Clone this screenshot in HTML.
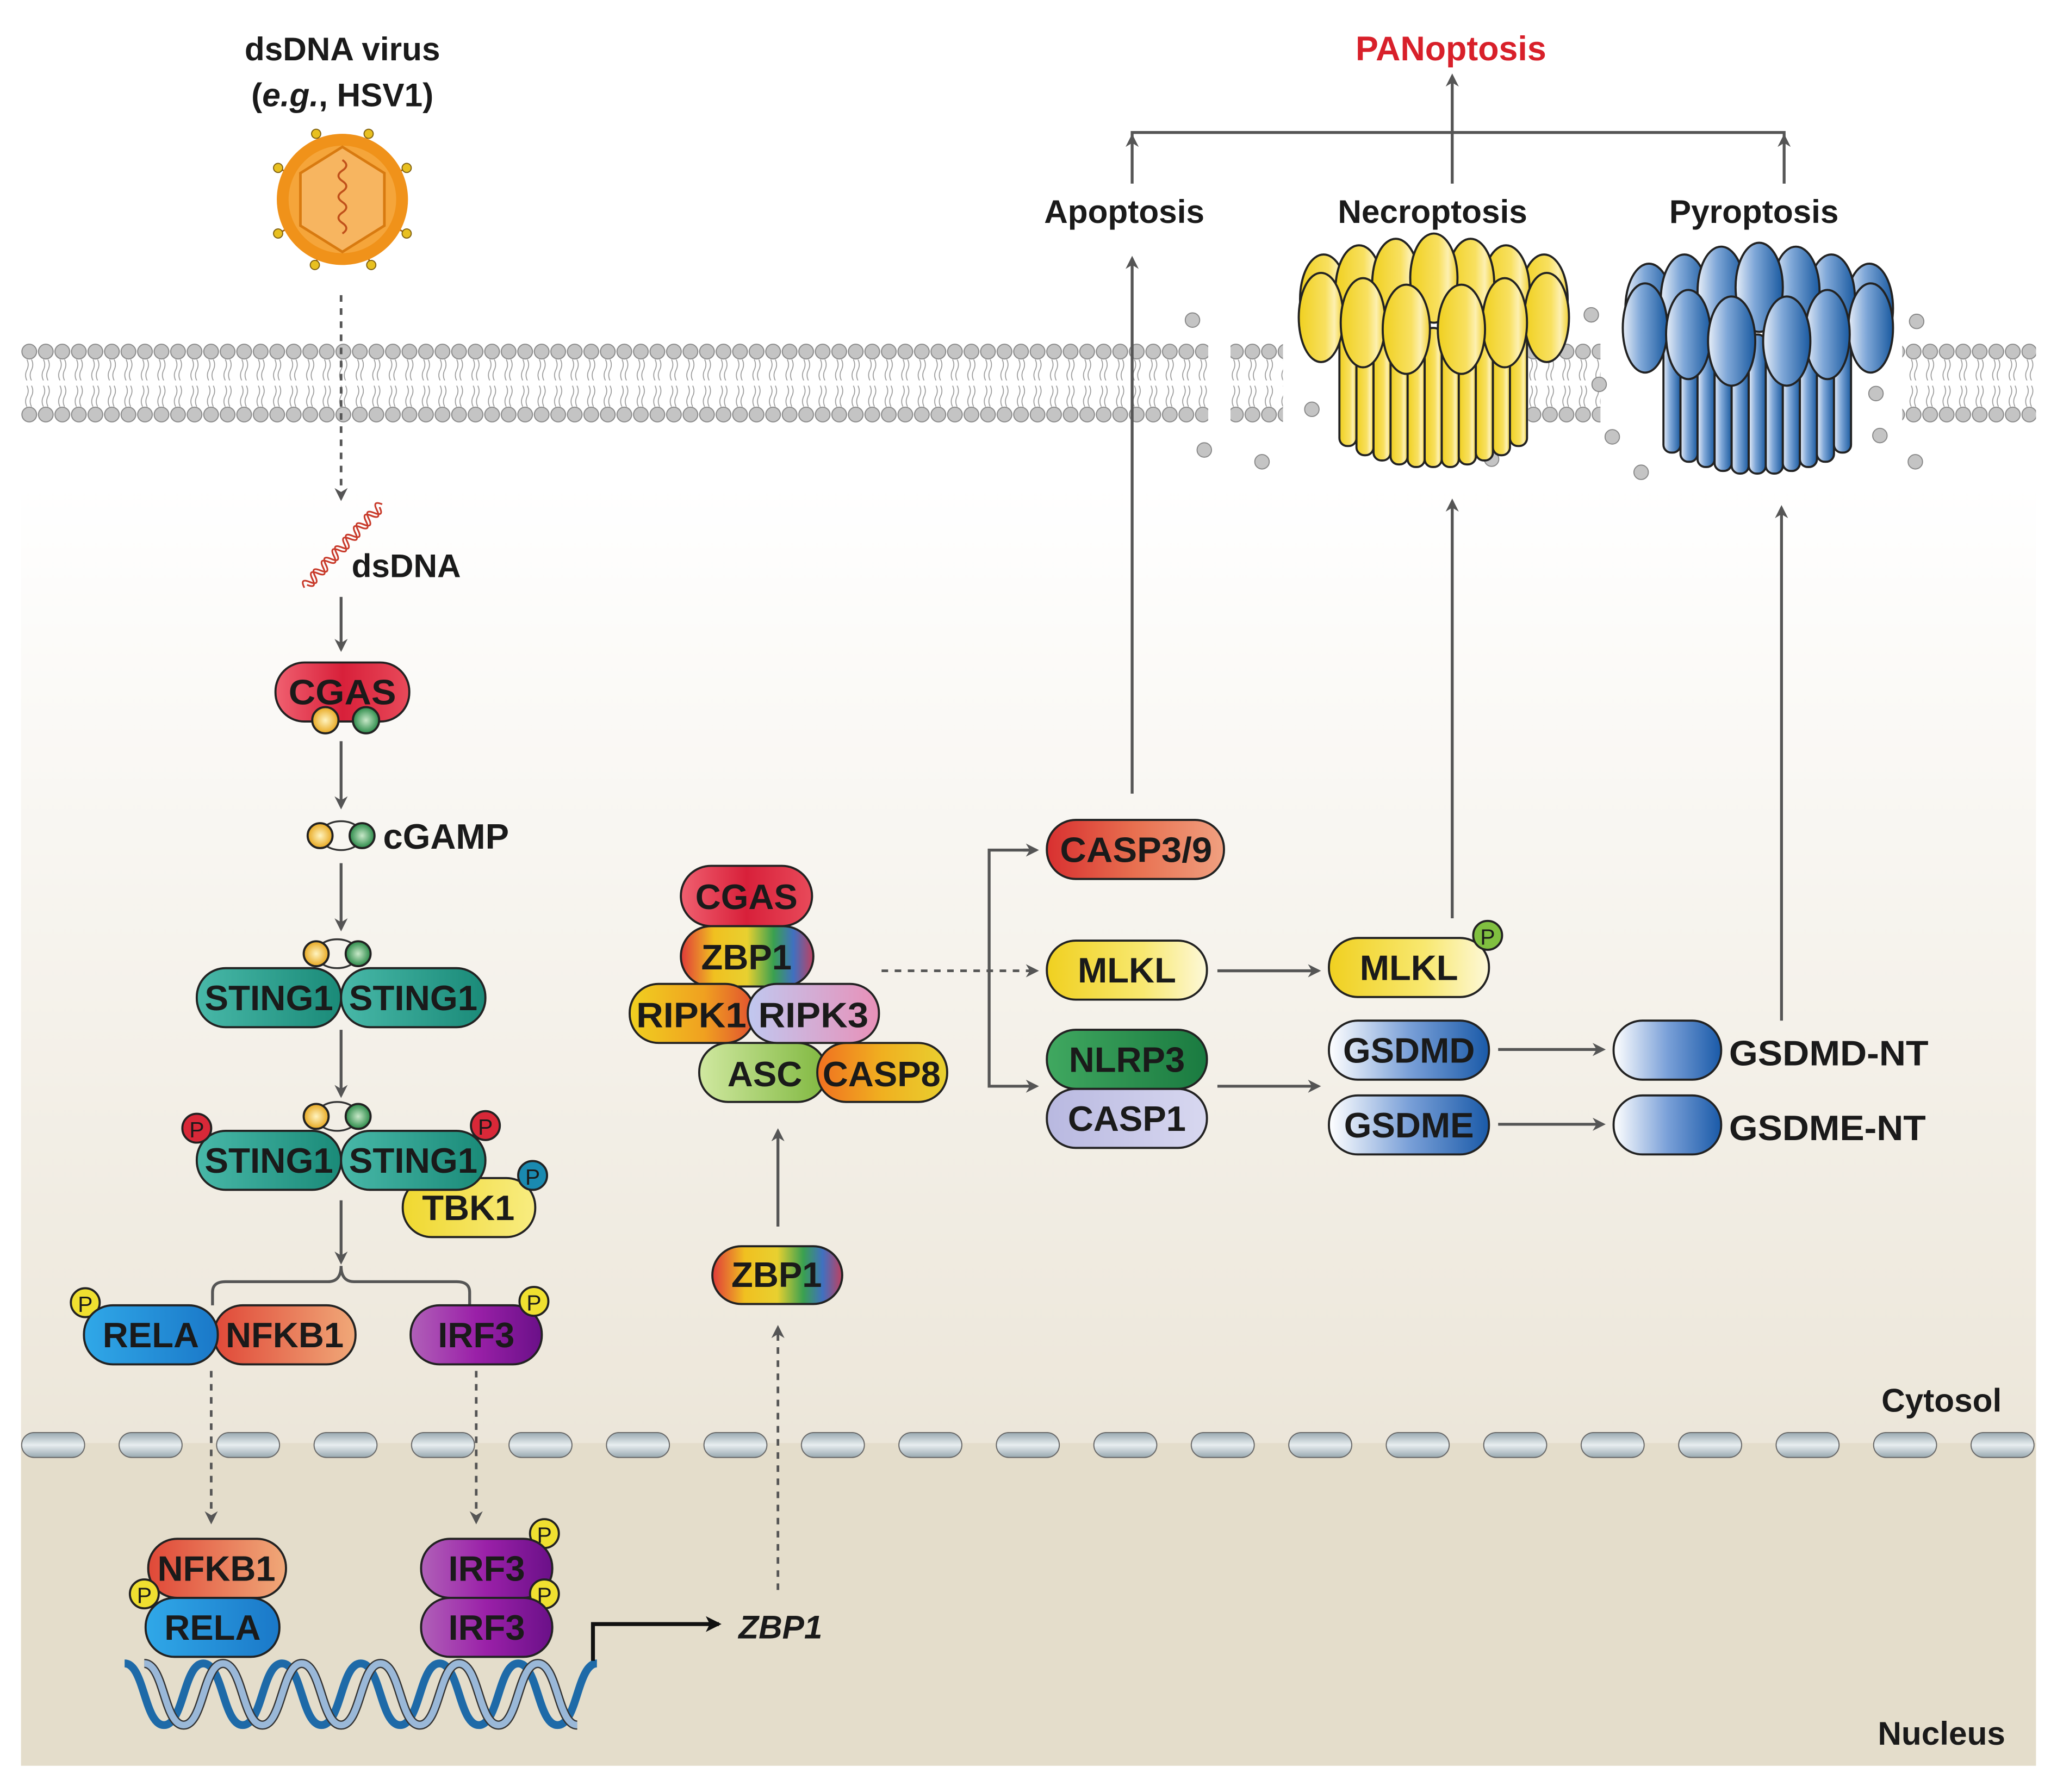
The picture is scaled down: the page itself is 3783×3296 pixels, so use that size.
<!DOCTYPE html>
<html><head><meta charset="utf-8"><style>
html,body{margin:0;padding:0;background:#fff;}
svg{display:block;}
text{font-family:"Liberation Sans Narrow","Liberation Sans",sans-serif;font-weight:bold;fill:#1a1a1a;}
.w{font-family:"Liberation Sans",sans-serif;}
.pl text{font-size:27px;text-anchor:middle;}
.st{stroke:#222;stroke-width:1.6;}
.ar{stroke:#555;stroke-width:2.2;fill:none;}
.ad{stroke:#555;stroke-width:2;fill:none;stroke-dasharray:5,5;}
</style></head><body>
<svg width="3783" height="3296" viewBox="0 0 1568 1366" preserveAspectRatio="none" xmlns="http://www.w3.org/2000/svg">
<defs>
<linearGradient id="bg" x1="0" y1="0" x2="0" y2="1">
<stop offset="0" stop-color="#ffffff"/><stop offset="0.05" stop-color="#ffffff"/><stop offset="1" stop-color="#ece6d9"/></linearGradient>
<linearGradient id="gCG" x1="0" x2="1"><stop offset="0" stop-color="#f06070"/><stop offset="0.5" stop-color="#d8203a"/><stop offset="1" stop-color="#e84a5a"/></linearGradient>
<linearGradient id="gZ" x1="0" x2="1"><stop offset="0" stop-color="#e03a3a"/><stop offset="0.25" stop-color="#f0c020"/><stop offset="0.5" stop-color="#e8d030"/><stop offset="0.7" stop-color="#3aa050"/><stop offset="0.85" stop-color="#4070c0"/><stop offset="1" stop-color="#c04060"/></linearGradient>
<linearGradient id="gST" x1="0" x2="1"><stop offset="0" stop-color="#48b8a8"/><stop offset="1" stop-color="#1a8a78"/></linearGradient>
<linearGradient id="gTB" x1="0" x2="1"><stop offset="0" stop-color="#f0d830"/><stop offset="1" stop-color="#f8ec80"/></linearGradient>
<linearGradient id="gRE" x1="0" x2="1"><stop offset="0" stop-color="#30a8e8"/><stop offset="1" stop-color="#1a78c8"/></linearGradient>
<linearGradient id="gNF" x1="0" x2="1"><stop offset="0" stop-color="#e04838"/><stop offset="1" stop-color="#f0a878"/></linearGradient>
<linearGradient id="gIR" x1="0" x2="1"><stop offset="0" stop-color="#b060b8"/><stop offset="0.5" stop-color="#9a20a8"/><stop offset="1" stop-color="#6a1088"/></linearGradient>
<linearGradient id="gC3" x1="0" x2="1"><stop offset="0" stop-color="#d83030"/><stop offset="0.5" stop-color="#e87050"/><stop offset="1" stop-color="#f0a080"/></linearGradient>
<linearGradient id="gML" x1="0" x2="1"><stop offset="0" stop-color="#f0d020"/><stop offset="0.6" stop-color="#f8e870"/><stop offset="1" stop-color="#fdf8d8"/></linearGradient>
<linearGradient id="gNL" x1="0" x2="1"><stop offset="0" stop-color="#40a860"/><stop offset="1" stop-color="#1a7a40"/></linearGradient>
<linearGradient id="gCA" x1="0" x2="1"><stop offset="0" stop-color="#b8b8e0"/><stop offset="1" stop-color="#d8d8f0"/></linearGradient>
<linearGradient id="gGS" x1="0" x2="1"><stop offset="0" stop-color="#ffffff"/><stop offset="0.5" stop-color="#7aa0d8"/><stop offset="1" stop-color="#1a5aa8"/></linearGradient>
<linearGradient id="gR1" x1="0" x2="1"><stop offset="0" stop-color="#f0d020"/><stop offset="0.6" stop-color="#f0a020"/><stop offset="1" stop-color="#e05030"/></linearGradient>
<linearGradient id="gR3" x1="0" x2="1"><stop offset="0" stop-color="#c0c8f0"/><stop offset="1" stop-color="#e890b8"/></linearGradient>
<linearGradient id="gAS" x1="0" x2="1"><stop offset="0" stop-color="#d0e8a0"/><stop offset="1" stop-color="#80b840"/></linearGradient>
<linearGradient id="gC8" x1="0" x2="1"><stop offset="0" stop-color="#f07020"/><stop offset="0.5" stop-color="#f0b020"/><stop offset="1" stop-color="#e8d030"/></linearGradient>
<linearGradient id="gYC" x1="0" x2="1"><stop offset="0" stop-color="#f0d020"/><stop offset="0.6" stop-color="#f8e060"/><stop offset="0.8" stop-color="#fdf0b0"/><stop offset="1" stop-color="#f0d030"/></linearGradient>
<linearGradient id="gBC" x1="0" x2="1"><stop offset="0" stop-color="#e8eef8"/><stop offset="0.4" stop-color="#80a8d8"/><stop offset="1" stop-color="#1a5aa0"/></linearGradient>
<linearGradient id="gNP" x1="0" x2="0" y1="0" y2="1"><stop offset="0" stop-color="#98a8b0"/><stop offset="0.5" stop-color="#e8eef0"/><stop offset="1" stop-color="#98a8b0"/></linearGradient>
<radialGradient id="gBy"><stop offset="0" stop-color="#fff4c0"/><stop offset="1" stop-color="#e8a820"/></radialGradient>
<radialGradient id="gBg"><stop offset="0" stop-color="#c8e8c8"/><stop offset="1" stop-color="#2a8a48"/></radialGradient>
<pattern id="mem" patternUnits="userSpaceOnUse" x="16" y="259" width="12.6" height="66">
<circle cx="6.3" cy="9" r="5.6" fill="#c4c4c4" stroke="#888" stroke-width="0.8"/>
<circle cx="6.3" cy="57" r="5.6" fill="#c4c4c4" stroke="#888" stroke-width="0.8"/>
<path d="M4.5 15 q2 4 0 8 q-2 4 0 8 M8 15 q2 4 0 8 q-2 4 0 8 M4.5 35 q2 4 0 8 q-2 4 0 8 M8 35 q2 4 0 8 q-2 4 0 8" stroke="#999" stroke-width="0.7" fill="none"/>
</pattern>
<pattern id="np" patternUnits="userSpaceOnUse" x="16" y="1091" width="74.3" height="22">
<rect x="0.5" y="1" width="48" height="19" rx="9.5" fill="url(#gNP)" stroke="#666" stroke-width="0.8"/>
</pattern>
<marker id="ah" markerWidth="10" markerHeight="10" refX="8" refY="5" orient="auto" markerUnits="userSpaceOnUse"><path d="M0,0 L10,5 L0,10 L3,5 z" fill="#555"/></marker>
<marker id="ahk" markerWidth="12" markerHeight="12" refX="10" refY="6" orient="auto" markerUnits="userSpaceOnUse"><path d="M0,0 L12,6 L0,12 L3,6 z" fill="#111"/></marker>
</defs>

<rect x="0" y="0" width="1568" height="1366" fill="#fff"/>
<rect x="16" y="330" width="1536" height="772" fill="url(#bg)"/>
<rect x="16" y="1100" width="1536" height="246" fill="#e4ddcb"/>

<rect x="16" y="259" width="905" height="66" fill="url(#mem)"/>
<rect x="938" y="259" width="40" height="66" fill="url(#mem)"/>
<rect x="1165" y="259" width="55" height="66" fill="url(#mem)"/>
<rect x="1450" y="259" width="102" height="66" fill="url(#mem)"/>
<g fill="#c4c4c4" stroke="#888" stroke-width="0.8">
<circle cx="909" cy="244" r="5.5"/><circle cx="918" cy="343" r="5.5"/><circle cx="962" cy="352" r="5.5"/><circle cx="1000" cy="312" r="5.5"/><circle cx="1213" cy="240" r="5.5"/><circle cx="1219" cy="293" r="5.5"/><circle cx="1229" cy="333" r="5.5"/><circle cx="1251" cy="360" r="5.5"/><circle cx="1461" cy="245" r="5.5"/><circle cx="1430" cy="300" r="5.5"/><circle cx="1433" cy="332" r="5.5"/><circle cx="1460" cy="352" r="5.5"/><circle cx="1137" cy="350" r="5.5"/>
</g>

<g class="st" stroke-width="1.4">
<g fill="url(#gYC)">
<rect x="1021" y="250" width="13" height="90" rx="6"/><rect x="1034" y="250" width="13" height="97" rx="6"/><rect x="1047" y="250" width="13" height="101" rx="6"/><rect x="1060" y="250" width="13" height="104" rx="6"/><rect x="1073" y="250" width="13" height="106" rx="6"/><rect x="1086" y="250" width="13" height="106" rx="6"/><rect x="1099" y="250" width="13" height="106" rx="6"/><rect x="1112" y="250" width="13" height="104" rx="6"/><rect x="1125" y="250" width="13" height="101" rx="6"/><rect x="1138" y="250" width="13" height="97" rx="6"/><rect x="1151" y="250" width="13" height="90" rx="6"/>
<ellipse cx="1009" cy="228" rx="18" ry="34"/><ellipse cx="1177" cy="228" rx="18" ry="34"/>
<ellipse cx="1036" cy="221" rx="18" ry="34"/><ellipse cx="1148" cy="221" rx="18" ry="34"/>
<ellipse cx="1064" cy="216" rx="18" ry="34"/><ellipse cx="1121" cy="216" rx="18" ry="34"/>
<ellipse cx="1093" cy="212" rx="18" ry="34"/>
<ellipse cx="1007" cy="242" rx="17" ry="34"/><ellipse cx="1179" cy="242" rx="17" ry="34"/>
<ellipse cx="1039" cy="246" rx="17" ry="34"/><ellipse cx="1147" cy="246" rx="17" ry="34"/>
<ellipse cx="1072" cy="251" rx="18" ry="34"/><ellipse cx="1114" cy="251" rx="18" ry="34"/>
</g></g>
<g class="st" stroke-width="1.4">
<g fill="url(#gBC)">
<rect x="1268" y="255" width="13" height="90" rx="6"/><rect x="1281" y="255" width="13" height="97" rx="6"/><rect x="1294" y="255" width="13" height="101" rx="6"/><rect x="1307" y="255" width="13" height="104" rx="6"/><rect x="1320" y="255" width="13" height="106" rx="6"/><rect x="1333" y="255" width="13" height="106" rx="6"/><rect x="1346" y="255" width="13" height="106" rx="6"/><rect x="1359" y="255" width="13" height="104" rx="6"/><rect x="1372" y="255" width="13" height="101" rx="6"/><rect x="1385" y="255" width="13" height="97" rx="6"/><rect x="1398" y="255" width="13" height="90" rx="6"/>
<ellipse cx="1257" cy="235" rx="18" ry="34"/><ellipse cx="1425" cy="235" rx="18" ry="34"/>
<ellipse cx="1284" cy="228" rx="18" ry="34"/><ellipse cx="1396" cy="228" rx="18" ry="34"/>
<ellipse cx="1312" cy="222" rx="18" ry="34"/><ellipse cx="1369" cy="222" rx="18" ry="34"/>
<ellipse cx="1341" cy="219" rx="18" ry="34"/>
<ellipse cx="1254" cy="250" rx="17" ry="34"/><ellipse cx="1426" cy="250" rx="17" ry="34"/>
<ellipse cx="1287" cy="255" rx="17" ry="34"/><ellipse cx="1393" cy="255" rx="17" ry="34"/>
<ellipse cx="1320" cy="260" rx="18" ry="34"/><ellipse cx="1362" cy="260" rx="18" ry="34"/>
</g></g>

<rect x="16" y="1091" width="1540" height="22" fill="url(#np)"/>

<g stroke="#a06010" stroke-width="1.2">
<line x1="261" y1="152" x2="241" y2="102"/><line x1="261" y1="152" x2="281" y2="102"/><line x1="261" y1="152" x2="310" y2="128"/><line x1="261" y1="152" x2="310" y2="178"/><line x1="261" y1="152" x2="283" y2="202"/><line x1="261" y1="152" x2="240" y2="202"/><line x1="261" y1="152" x2="212" y2="178"/><line x1="261" y1="152" x2="212" y2="128"/>
</g>
<g fill="#e8c020" stroke="#806010" stroke-width="0.8"><circle cx="241" cy="102" r="3.5"/><circle cx="281" cy="102" r="3.5"/><circle cx="310" cy="128" r="3.5"/><circle cx="310" cy="178" r="3.5"/><circle cx="283" cy="202" r="3.5"/><circle cx="240" cy="202" r="3.5"/><circle cx="212" cy="178" r="3.5"/><circle cx="212" cy="128" r="3.5"/></g>
<circle cx="261" cy="152" r="50" fill="#f0921a"/>
<circle cx="261" cy="152" r="41" fill="#f5a53a"/>
<polygon points="261,112 293,132 293,172 261,192 229,172 229,132" fill="#f7b560" stroke="#d87a10" stroke-width="2"/>
<path d="M261 122 q6 4 0 8 q-6 4 0 8 q6 4 0 8 q-6 4 0 8 q6 4 0 8 q-6 4 0 8 q6 4 0 8" stroke="#c0501a" stroke-width="1.5" fill="none"/>

<text class="w" x="261" y="46" font-size="25" text-anchor="middle">dsDNA virus</text>
<text class="w" x="261" y="81" font-size="25" text-anchor="middle">(<tspan font-style="italic">e.g.</tspan>, HSV1)</text>
<text class="w" x="1106" y="46" font-size="26" text-anchor="middle" style="fill:#d8202a">PANoptosis</text>
<text class="w" x="857" y="170" font-size="25" text-anchor="middle">Apoptosis</text>
<text class="w" x="1092" y="170" font-size="25" text-anchor="middle">Necroptosis</text>
<text class="w" x="1337" y="170" font-size="25" text-anchor="middle">Pyroptosis</text>
<text class="w" x="1480" y="1076" font-size="25" text-anchor="middle">Cytosol</text>
<text class="w" x="1480" y="1330" font-size="25" text-anchor="middle">Nucleus</text>

<path class="ar" d="M863 140 V101 H1360 V140" stroke-width="2"/>
<line class="ar" x1="863" y1="110" x2="863" y2="104" marker-end="url(#ah)"/>
<line class="ar" x1="1360" y1="110" x2="1360" y2="104" marker-end="url(#ah)"/>
<line class="ar" x1="1107" y1="140" x2="1107" y2="58" marker-end="url(#ah)"/>
<line class="ar" x1="863" y1="605" x2="863" y2="197" marker-end="url(#ah)"/>
<line class="ar" x1="1107" y1="700" x2="1107" y2="382" marker-end="url(#ah)"/>
<line class="ar" x1="1358" y1="778" x2="1358" y2="387" marker-end="url(#ah)"/>

<line class="ad" x1="260" y1="225" x2="260" y2="380" marker-end="url(#ah)"/>
<line class="ar" x1="260" y1="455" x2="260" y2="495" marker-end="url(#ah)"/>
<line class="ar" x1="260" y1="565" x2="260" y2="615" marker-end="url(#ah)"/>
<line class="ar" x1="260" y1="658" x2="260" y2="708" marker-end="url(#ah)"/>
<line class="ar" x1="260" y1="785" x2="260" y2="835" marker-end="url(#ah)"/>
<line class="ar" x1="260" y1="915" x2="260" y2="962" marker-end="url(#ah)"/>
<path class="ar" d="M162 995 V985 q0 -8 10 -8 H250 q10 0 10 -12 q0 12 10 12 H348 q10 0 10 8 V995" stroke-width="2"/>
<line class="ad" x1="161" y1="1045" x2="161" y2="1160" marker-end="url(#ah)"/>
<line class="ad" x1="363" y1="1045" x2="363" y2="1160" marker-end="url(#ah)"/>
<line class="ad" x1="593" y1="1212" x2="593" y2="1012" marker-end="url(#ah)"/>
<line class="ar" x1="593" y1="935" x2="593" y2="862" marker-end="url(#ah)"/>
<line class="ad" x1="672" y1="740" x2="790" y2="740" marker-end="url(#ah)"/>
<path class="ar" d="M790 648 H754 V828 H790" stroke-width="2"/>
<line class="ar" x1="780" y1="648" x2="790" y2="648" marker-end="url(#ah)"/>
<line class="ar" x1="780" y1="828" x2="790" y2="828" marker-end="url(#ah)"/>
<line class="ar" x1="928" y1="740" x2="1005" y2="740" marker-end="url(#ah)"/>
<line class="ar" x1="928" y1="828" x2="1005" y2="828" marker-end="url(#ah)"/>
<line class="ar" x1="1142" y1="800" x2="1222" y2="800" marker-end="url(#ah)"/>
<line class="ar" x1="1142" y1="857" x2="1222" y2="857" marker-end="url(#ah)"/>

<!-- dsDNA coil -->
<g transform="translate(232,448) rotate(-47)" fill="none" stroke="#c83a2a" stroke-width="1.3">
<path d="M0 0 q3 -8 6 0 q3 8 6 0 q3 -8 6 0 q3 8 6 0 q3 -8 6 0 q3 8 6 0 q3 -8 6 0 q3 8 6 0 q3 -8 6 0 q3 8 6 0 q3 -8 6 0 q3 8 6 0 q3 -8 6 0 q3 8 6 0"/>
<path d="M3 0 q3 8 6 0 q3 -8 6 0 q3 8 6 0 q3 -8 6 0 q3 8 6 0 q3 -8 6 0 q3 8 6 0 q3 -8 6 0 q3 8 6 0 q3 -8 6 0 q3 8 6 0 q3 -8 6 0 q3 8 6 0 q3 -8 6 0"/>
</g>
<text class="w" x="268" y="440" font-size="25">dsDNA</text>

<g class="pl">
<rect x="210" y="505" width="102" height="45" rx="22" fill="url(#gCG)" class="st"/><text x="261" y="537" textLength="82" lengthAdjust="spacingAndGlyphs">CGAS</text>
<circle cx="248" cy="549" r="10" fill="url(#gBy)" class="st" stroke-width="1"/><circle cx="279" cy="549" r="10" fill="url(#gBg)" class="st" stroke-width="1"/>
<ellipse cx="260" cy="637" rx="16" ry="11" fill="none" stroke="#333" stroke-width="1.4"/>
<circle cx="244" cy="637" r="9.5" fill="url(#gBy)" class="st" stroke-width="1"/><circle cx="276" cy="637" r="9.5" fill="url(#gBg)" class="st" stroke-width="1"/>
<text class="w" x="292" y="647" font-size="25" style="text-anchor:start">cGAMP</text>
<ellipse cx="257" cy="727" rx="16" ry="11" fill="none" stroke="#333" stroke-width="1.4"/>
<circle cx="241" cy="727" r="9.5" fill="url(#gBy)" class="st" stroke-width="1"/><circle cx="273" cy="727" r="9.5" fill="url(#gBg)" class="st" stroke-width="1"/>
<rect x="150" y="738" width="110" height="45" rx="22" fill="url(#gST)" class="st"/><text x="205" y="770" textLength="98" lengthAdjust="spacingAndGlyphs">STING1</text>
<rect x="260" y="738" width="110" height="45" rx="22" fill="url(#gST)" class="st"/><text x="315" y="770" textLength="98" lengthAdjust="spacingAndGlyphs">STING1</text>
<ellipse cx="257" cy="851" rx="16" ry="11" fill="none" stroke="#333" stroke-width="1.4"/>
<circle cx="241" cy="851" r="9.5" fill="url(#gBy)" class="st" stroke-width="1"/><circle cx="273" cy="851" r="9.5" fill="url(#gBg)" class="st" stroke-width="1"/>
<rect x="307" y="898" width="101" height="45" rx="22" fill="url(#gTB)" class="st"/><text x="357" y="930">TBK1</text>
<circle cx="406" cy="896" r="11" fill="#1a8ab0" class="st"/><text x="406" y="903" style="font-size:17px;font-weight:normal">P</text>
<rect x="150" y="862" width="110" height="45" rx="22" fill="url(#gST)" class="st"/><text x="205" y="894" textLength="98" lengthAdjust="spacingAndGlyphs">STING1</text>
<rect x="260" y="862" width="110" height="45" rx="22" fill="url(#gST)" class="st"/><text x="315" y="894" textLength="98" lengthAdjust="spacingAndGlyphs">STING1</text>
<circle cx="150" cy="860" r="11" fill="#d82838" class="st"/><text x="150" y="867" style="font-size:17px;font-weight:normal">P</text>
<circle cx="370" cy="858" r="11" fill="#d82838" class="st"/><text x="370" y="865" style="font-size:17px;font-weight:normal">P</text>
<circle cx="65" cy="993" r="11" fill="#f0e030" class="st"/><text x="65" y="1000" style="font-size:17px;font-weight:normal">P</text>
<rect x="163" y="995" width="108" height="45" rx="22" fill="url(#gNF)" class="st"/><text x="217" y="1027" textLength="90" lengthAdjust="spacingAndGlyphs">NFKB1</text>
<rect x="64" y="995" width="102" height="45" rx="22" fill="url(#gRE)" class="st"/><text x="115" y="1027">RELA</text>
<rect x="313" y="995" width="100" height="45" rx="22" fill="url(#gIR)" class="st"/><text x="363" y="1027">IRF3</text>
<circle cx="407" cy="992" r="11" fill="#f0e030" class="st"/><text x="407" y="999" style="font-size:17px;font-weight:normal">P</text>
<rect x="113" y="1173" width="105" height="45" rx="22" fill="url(#gNF)" class="st"/><text x="165" y="1205" textLength="90" lengthAdjust="spacingAndGlyphs">NFKB1</text>
<rect x="111" y="1218" width="102" height="45" rx="22" fill="url(#gRE)" class="st"/><text x="162" y="1250">RELA</text>
<circle cx="110" cy="1215" r="11" fill="#f0e030" class="st"/><text x="110" y="1222" style="font-size:17px;font-weight:normal">P</text>
<circle cx="415" cy="1169" r="11" fill="#f0e030" class="st"/><text x="415" y="1176" style="font-size:17px;font-weight:normal">P</text>
<rect x="321" y="1173" width="100" height="45" rx="22" fill="url(#gIR)" class="st"/><text x="371" y="1205">IRF3</text>
<circle cx="415" cy="1215" r="11" fill="#f0e030" class="st"/><text x="415" y="1222" style="font-size:17px;font-weight:normal">P</text>
<rect x="321" y="1218" width="100" height="45" rx="22" fill="url(#gIR)" class="st"/><text x="371" y="1250">IRF3</text>
<rect x="543" y="950" width="99" height="44" rx="22" fill="url(#gZ)" class="st"/><text x="592" y="981">ZBP1</text>
<rect x="519" y="660" width="100" height="46" rx="23" fill="url(#gCG)" class="st"/><text x="569" y="693">CGAS</text>
<rect x="519" y="706" width="101" height="46" rx="23" fill="url(#gZ)" class="st"/><text x="569" y="739">ZBP1</text>
<rect x="533" y="795" width="97" height="45" rx="22" fill="url(#gAS)" class="st"/><text x="583" y="828">ASC</text>
<rect x="623" y="795" width="99" height="45" rx="22" fill="url(#gC8)" class="st"/><text x="672" y="828" textLength="90" lengthAdjust="spacingAndGlyphs">CASP8</text>
<rect x="480" y="750" width="95" height="45" rx="22" fill="url(#gR1)" class="st"/><text x="527" y="783" textLength="84" lengthAdjust="spacingAndGlyphs">RIPK1</text>
<rect x="570" y="750" width="100" height="45" rx="22" fill="url(#gR3)" class="st"/><text x="620" y="783" textLength="84" lengthAdjust="spacingAndGlyphs">RIPK3</text>
<rect x="798" y="625" width="135" height="45" rx="22" fill="url(#gC3)" class="st"/><text x="866" y="657" textLength="116" lengthAdjust="spacingAndGlyphs">CASP3/9</text>
<rect x="798" y="717" width="122" height="45" rx="22" fill="url(#gML)" class="st"/><text x="859" y="749">MLKL</text>
<rect x="798" y="830" width="122" height="45" rx="22" fill="url(#gCA)" class="st"/><text x="859" y="862">CASP1</text>
<rect x="798" y="785" width="122" height="45" rx="22" fill="url(#gNL)" class="st"/><text x="859" y="817">NLRP3</text>
<rect x="1013" y="715" width="122" height="45" rx="22" fill="url(#gML)" class="st"/><text x="1074" y="747">MLKL</text>
<circle cx="1134" cy="713" r="11" fill="#80c040" class="st"/><text x="1134" y="720" style="font-size:17px;font-weight:normal">P</text>
<rect x="1013" y="778" width="122" height="45" rx="22" fill="url(#gGS)" class="st"/><text x="1074" y="810">GSDMD</text>
<rect x="1013" y="835" width="122" height="45" rx="22" fill="url(#gGS)" class="st"/><text x="1074" y="867">GSDME</text>
<rect x="1230" y="778" width="82" height="45" rx="22" fill="url(#gGS)" class="st"/>
<rect x="1230" y="835" width="82" height="45" rx="22" fill="url(#gGS)" class="st"/>
<text x="1318" y="812" style="text-anchor:start" textLength="152" lengthAdjust="spacingAndGlyphs">GSDMD-NT</text>
<text x="1318" y="869" style="text-anchor:start" textLength="150" lengthAdjust="spacingAndGlyphs">GSDME-NT</text>
</g>

<g fill="none">
<path d="M95 1268 C110 1268 110 1315 125 1315 C140 1315 140 1268 155 1268 C170 1268 170 1315 185 1315 C200 1315 200 1268 215 1268 C230 1268 230 1315 245 1315 C260 1315 260 1268 275 1268 C290 1268 290 1315 305 1315 C320 1315 320 1268 335 1268 C350 1268 350 1315 365 1315 C380 1315 380 1268 395 1268 C410 1268 410 1315 425 1315 C440 1315 440 1268 455 1268" stroke="#1e6aa8" stroke-width="6"/>
<path d="M110 1268 C125 1268 125 1315 140 1315 C155 1315 155 1268 170 1268 C185 1268 185 1315 200 1315 C215 1315 215 1268 230 1268 C245 1268 245 1315 260 1315 C275 1315 275 1268 290 1268 C305 1268 305 1315 320 1315 C335 1315 335 1268 350 1268 C365 1268 365 1315 380 1315 C395 1315 395 1268 410 1268 C425 1268 425 1315 440 1315" stroke="#333" stroke-width="7"/>
<path d="M110 1268 C125 1268 125 1315 140 1315 C155 1315 155 1268 170 1268 C185 1268 185 1315 200 1315 C215 1315 215 1268 230 1268 C245 1268 245 1315 260 1315 C275 1315 275 1268 290 1268 C305 1268 305 1315 320 1315 C335 1315 335 1268 350 1268 C365 1268 365 1315 380 1315 C395 1315 395 1268 410 1268 C425 1268 425 1315 440 1315" stroke="#9ab8d8" stroke-width="5"/>
</g>
<path d="M452 1266 V1238 H548" stroke="#111" stroke-width="3" fill="none" marker-end="url(#ahk)"/>
<text class="w" x="563" y="1249" font-size="25" font-style="italic">ZBP1</text>
</svg>
</body></html>
